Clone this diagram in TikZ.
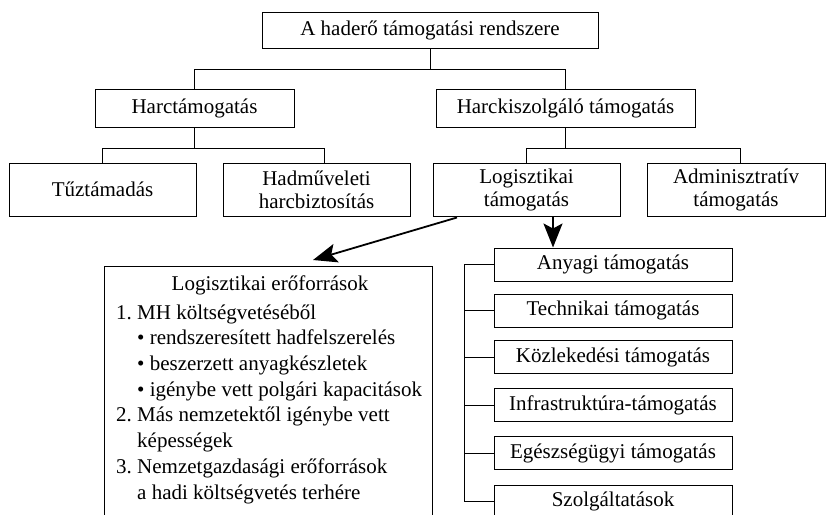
\documentclass[tikz,border=0pt]{standalone}
\usepackage{fontspec}
\setmainfont{Liberation Serif}
\usetikzlibrary{arrows.meta}
\begin{document}
\begin{tikzpicture}[x=1pt,y=-1pt,
  box/.style={draw, line width=1pt, inner sep=0pt, align=center,
    font=\fontsize{21}{23}\selectfont},
  lbox/.style={box, minimum width=238pt, minimum height=33pt},
  rowbox/.style={box, minimum height=53pt},
  conn/.style={line width=1pt},
  bigarrow/.style={line width=1.8pt, -{Stealth[length=24pt,width=19pt,inset=5pt]}},
  listfont/.style={font=\fontsize{21}{25.7}\selectfont}]
\clip (0,0) rectangle (826,514);

% upper tree
\node[box, minimum width=336pt, minimum height=36pt] (root) at (430,30.5) {A haderő támogatási rendszere};
\node[box, minimum width=199pt, minimum height=38pt] (harc) at (194.5,108) {Harctámogatás};
\node[box, minimum width=259pt, minimum height=38pt] (harck) at (565.5,108) {Harckiszolgáló támogatás};

\node[rowbox, minimum width=187pt] (tuz) at (102.5,189.5) {Tűztámadás};
\node[rowbox, minimum width=187pt] (hadm) at (316.5,189.5) {Hadműveleti\\harcbiztosítás};
\node[rowbox, minimum width=187pt] (logt) at (526.5,189.5) {Logisztikai\\támogatás};
\node[rowbox, minimum width=178pt] (adm) at (736,189.5) {Adminisztratív\\támogatás};

\draw[conn] (root.south) -- ++(0,20.5) coordinate (j1);
\draw[conn] (harc.north) |- (j1) -| (harck.north);
\draw[conn] (harc.south) -- ++(0,21) coordinate (j2);
\draw[conn] (tuz.north) |- (j2) -| ([xshift=7.5pt]hadm.north);
\draw[conn] (harck.south) -- ++(0,21) coordinate (j3);
\draw[conn] (logt.north) |- (j3) -| ([xshift=4pt]adm.north);

% logistic resources
\node[draw, line width=1pt, inner sep=0pt, minimum width=328pt, minimum height=270pt,
  anchor=north west] (lero) at (104,266) {};
\node[listfont, anchor=base, inner sep=0pt] (lerotitle) at (270,290) {Logisztikai erőforrások};
\node[listfont, anchor=north west, inner sep=0pt, align=left] (lerolist) at (116,301)
  {\strut 1.~MH költségvetéséből\\
   \hspace*{1em}• rendszeresített hadfelszerelés\\
   \hspace*{1em}• beszerzett anyagkészletek\\
   \hspace*{1em}• igénybe vett polgári kapacitások\\
   2.~Más nemzetektől igénybe vett\\
   \hspace*{1em}képességek\\
   3.~Nemzetgazdasági erőforrások\\
   \hspace*{1em}a hadi költségvetés terhére};

% logistic support areas
\node[lbox] (anyagi) at (613,264.5) {Anyagi támogatás};
\node[lbox] (tech) at (613,310.5) {Technikai támogatás};
\node[lbox] (kozl) at (613,357) {Közlekedési támogatás};
\node[lbox] (infra) at (613,405) {Infrastruktúra-támogatás};
\node[lbox] (egesz) at (613,453) {Egészségügyi támogatás};
\node[lbox] (szolg) at (613,501.5) {Szolgáltatások};

\coordinate (spine) at (464,264.5);
\draw[conn] (anyagi.west) -| (szolg.west -| spine) -- (szolg.west);
\foreach \n in {tech,kozl,infra,egesz}
  \draw[conn] (\n.west) -- (\n.west -| spine);

% arrows
\coordinate (lerotip) at (313,260);
\draw[bigarrow] ([xshift=-69.5pt,yshift=-1pt]logt.south) -- (lerotip);
\draw[bigarrow] ([xshift=26.5pt]logt.south) -- ([xshift=26.5pt]logt.south |- anyagi.north);
\end{tikzpicture}
\end{document}
